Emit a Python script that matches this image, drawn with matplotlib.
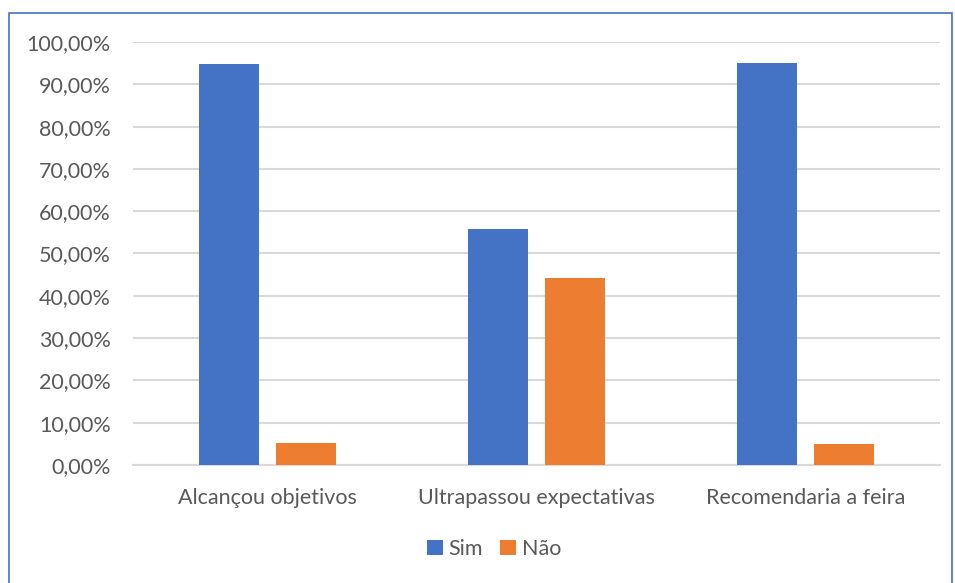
import matplotlib
matplotlib.use("Agg")
import matplotlib.pyplot as plt
import numpy as np
from matplotlib.patches import Rectangle

categories = ["Alcançou objetivos", "Ultrapassou expectativas", "Recomendaria a feira"]
sim = [94.8, 55.8, 95.0]
nao = [5.2, 44.2, 5.0]
series_names = ["Sim", "Não"]
colors = ["#4472C4", "#ED7D31"]
yticks = list(range(0, 101, 10))

plt.rcParams['font.family'] = ['Lato', 'DejaVu Sans']
text_color = "#595959"
fs = 15.5

fig = plt.figure(figsize=(9.55, 5.83), dpi=100)
ax = fig.add_axes([133 / 955, 1 - 465 / 583, 807 / 955, 423 / 583])

x = np.arange(len(categories))
width = 0.224
gap = 0.062
off = (width + gap) / 2
ax.bar(x - off, sim, width, color=colors[0], label=series_names[0], zorder=3)
ax.bar(x + off, nao, width, color=colors[1], label=series_names[1], zorder=3)

ax.set_xlim(-0.5, len(categories) - 0.5)
ax.set_ylim(0, 100)
ax.set_yticks(yticks)
ax.set_yticklabels([f"{v},00%" for v in yticks])
ax.set_xticks(x)
ax.set_xticklabels(categories)
ax.tick_params(axis='both', length=0, labelsize=fs, colors=text_color)
ax.tick_params(axis='y', pad=16)
ax.tick_params(axis='x', pad=16.5)
ax.yaxis.grid(True, color="#D9D9D9", linewidth=1.5, zorder=0)
for s in ["top", "right", "left"]:
    ax.spines[s].set_visible(False)
ax.spines["bottom"].set_color("#D9D9D9")
ax.spines["bottom"].set_linewidth(1.5)

leg = fig.legend(loc="center", bbox_to_anchor=(494 / 955, 1 - 549 / 583), ncol=2,
                 frameon=False, fontsize=fs, handlelength=0.75, handleheight=0.75,
                 handletextpad=0.25, columnspacing=0.8)
for t in leg.get_texts():
    t.set_color(text_color)

# chart-area frame
fig.patches.append(Rectangle((9 / 955, -0.01), (952 - 9) / 955, 1 - 13 / 583 + 0.01,
                             transform=fig.transFigure, fill=False,
                             edgecolor="#4472C4", linewidth=1.2))

fig.savefig("out.png", dpi=100)
